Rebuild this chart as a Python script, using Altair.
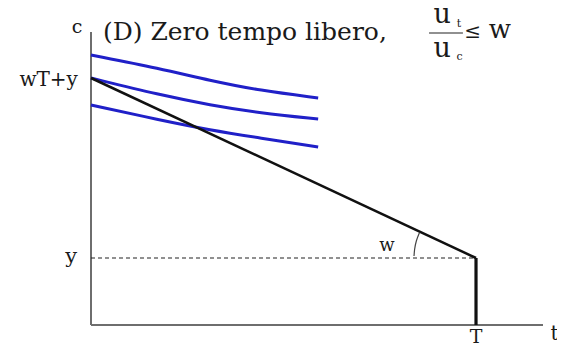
import altair as alt
import pandas as pd

# ---- data (arbitrary units: T = 10) ----
T_val = 10.0
y_level = 2.68
wTy = 9.88
x_max = 11.74
y_max = 11.72

curve_x = [0.0, 1.79, 3.09, 4.39, 5.90]
curve_top = [10.8, 10.26, 9.78, 9.38, 9.08]
curve_mid = [9.88, 9.2, 8.8, 8.48, 8.24]
curve_low = [8.8, 8.2, 7.8, 7.48, 7.12]

arc_x = [8.39, 8.405, 8.45, 8.53]
arc_y = [2.76, 3.02, 3.36, 3.69]

FONT = "DejaVu Serif"

xs = alt.Scale(domain=[0, x_max], nice=False, zero=False)
ys = alt.Scale(domain=[0, y_max], nice=False, zero=False)

curves = pd.DataFrame(
    [{"s": name, "i": i, "x": x, "y": v}
     for name, vals in [("top", curve_top), ("mid", curve_mid), ("low", curve_low)]
     for i, (x, v) in enumerate(zip(curve_x, vals))]
)

budget = pd.DataFrame({"x": [0.0, T_val], "y": [wTy, y_level]})
vert = pd.DataFrame({"x": [T_val], "y": [0.0], "y2": [y_level]})
dashed = pd.DataFrame({"x": [0.0], "x2": [T_val], "y": [y_level]})
yaxis = pd.DataFrame({"x": [0.0], "y": [0.0], "y2": [y_max]})
xaxis = pd.DataFrame({"x": [0.0], "x2": [x_max], "y": [0.0]})
arc = pd.DataFrame({"x": arc_x, "y": arc_y, "i": list(range(len(arc_x)))})
fracbar = pd.DataFrame({"x": [8.78], "x2": [9.66], "y": [11.68]})

labels = pd.DataFrame([
    {"t": "c", "x": -0.36, "y": 11.68, "a": "center", "s": 19},
    {"t": "wT+y", "x": -0.34, "y": 9.56, "a": "right", "s": 20},
    {"t": "y", "x": -0.36, "y": 2.48, "a": "right", "s": 21},
    {"t": "w", "x": 7.69, "y": 2.96, "a": "center", "s": 18},
    {"t": "T", "x": 10.0, "y": -0.72, "a": "center", "s": 19},
    {"t": "t", "x": 12.04, "y": -0.6, "a": "center", "s": 20},
    {"t": "(D) Zero tempo libero,", "x": 0.31, "y": 11.4, "a": "left", "s": 25},
    {"t": "u", "x": 9.12, "y": 12.08, "a": "center", "s": 27},
    {"t": "t", "x": 9.56, "y": 11.92, "a": "center", "s": 11},
    {"t": "u", "x": 9.12, "y": 10.72, "a": "center", "s": 27},
    {"t": "c", "x": 9.57, "y": 10.6, "a": "center", "s": 11},
    {"t": "≤", "x": 9.91, "y": 11.48, "a": "center", "s": 20},
    {"t": "w", "x": 10.62, "y": 11.48, "a": "center", "s": 26},
])

noax = dict(axis=None)

ax_y = alt.Chart(yaxis).mark_rule(color="#6e6e6e", strokeWidth=2).encode(
    x=alt.X("x:Q", scale=xs, **noax),
    y=alt.Y("y:Q", scale=ys, **noax),
    y2="y2:Q",
)
ax_x = alt.Chart(xaxis).mark_rule(color="#6e6e6e", strokeWidth=2).encode(
    x=alt.X("x:Q", scale=xs, **noax),
    x2="x2:Q",
    y=alt.Y("y:Q", scale=ys, **noax),
)
dash = alt.Chart(dashed).mark_rule(color="#222222", strokeWidth=1.2, strokeDash=[4, 3]).encode(
    x=alt.X("x:Q", scale=xs, **noax),
    x2="x2:Q",
    y=alt.Y("y:Q", scale=ys, **noax),
)
curve_layer = alt.Chart(curves).mark_line(
    color="#2020c8", strokeWidth=3, interpolate="basis"
).encode(
    x=alt.X("x:Q", scale=xs, **noax),
    y=alt.Y("y:Q", scale=ys, **noax),
    detail="s:N",
    order="i:Q",
)
budget_layer = alt.Chart(budget).mark_line(color="#111111", strokeWidth=2.5).encode(
    x=alt.X("x:Q", scale=xs, **noax),
    y=alt.Y("y:Q", scale=ys, **noax),
)
vert_layer = alt.Chart(vert).mark_rule(color="#111111", strokeWidth=3.2).encode(
    x=alt.X("x:Q", scale=xs, **noax),
    y=alt.Y("y:Q", scale=ys, **noax),
    y2="y2:Q",
)
arc_layer = alt.Chart(arc).mark_line(color="#444444", strokeWidth=1.2, interpolate="natural").encode(
    x=alt.X("x:Q", scale=xs, **noax),
    y=alt.Y("y:Q", scale=ys, **noax),
    order="i:Q",
)
bar_layer = alt.Chart(fracbar).mark_rule(color="#222222", strokeWidth=1.2).encode(
    x=alt.X("x:Q", scale=xs, **noax),
    x2="x2:Q",
    y=alt.Y("y:Q", scale=ys, **noax),
)

text_layers = []
for align in ["left", "center", "right"]:
    sub = labels[labels["a"] == align]
    text_layers.append(
        alt.Chart(sub).mark_text(
            font=FONT, color="#1a1a1a", align=align, baseline="alphabetic"
        ).encode(
            x=alt.X("x:Q", scale=xs, **noax),
            y=alt.Y("y:Q", scale=ys, **noax),
            text="t:N",
            size=alt.Size("s:Q", scale=None, legend=None),
        )
    )

chart = alt.layer(
    ax_y, ax_x, dash, curve_layer, budget_layer, vert_layer, arc_layer, bar_layer, *text_layers
).properties(
    width=452,
    height=293,
    autosize=alt.AutoSizeParams(type="none"),
    padding={"left": 83, "top": 24, "right": 14, "bottom": 18},
    background="white",
).configure_view(stroke=None)

chart.save("out.html", embed_options={"renderer": "svg", "actions": False})
